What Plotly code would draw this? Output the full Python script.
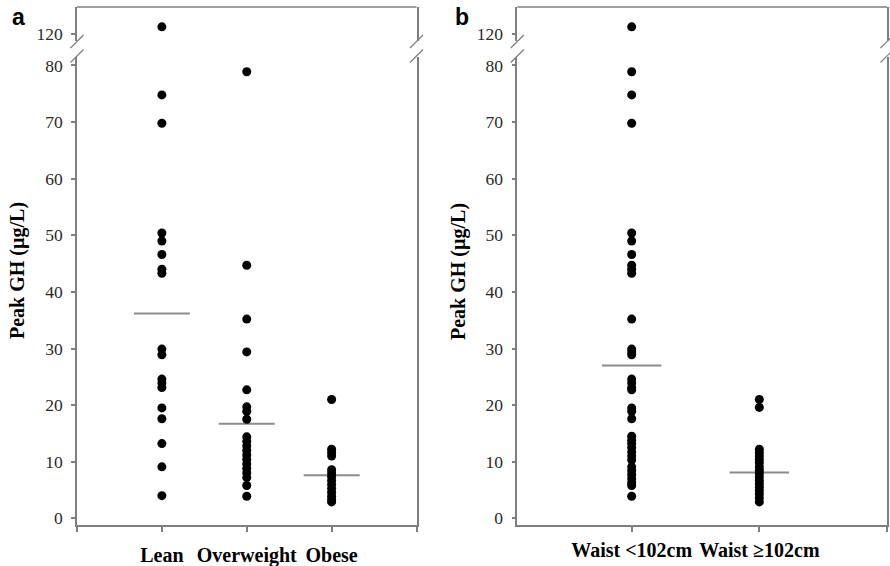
import plotly.graph_objects as go

W, H = 890, 566

# ---------------- data ----------------
groups_a = ["Lean", "Overweight", "Obese"]
lean = [121.3, 74.8, 69.8, 50.4, 49.0, 46.6, 44.0, 43.3, 29.9, 28.9, 24.6, 23.9,
        23.1, 19.5, 17.6, 13.2, 9.1, 4.0]
overweight = [78.9, 44.7, 35.2, 29.4, 22.7, 19.7, 18.9, 17.5, 14.4, 13.6, 12.8,
              12.0, 11.2, 10.4, 9.6, 8.8, 8.0, 7.2, 5.8, 3.9]
obese = [21.0, 12.2, 11.6, 11.0, 8.6, 8.0, 7.4, 6.7, 6.0, 5.3, 4.6, 3.9, 3.3, 2.9]
means_a = [36.2, 16.7, 7.6]

groups_b = ["Waist <102cm", "Waist ≥102cm"]
waist_lt = [121.3, 78.9, 74.8, 69.8, 50.4, 49.0, 46.6, 44.7, 44.0, 43.3, 35.2,
            29.9, 29.4, 28.9, 24.6, 23.9, 23.1, 22.7, 19.5, 18.9, 17.6, 14.5,
            13.8, 13.2, 12.5, 11.7, 11.0, 10.3, 9.1, 8.4, 7.7, 7.0, 6.3, 5.8, 3.9]
waist_ge = [21.0, 19.6, 12.2, 11.6, 11.0, 10.4, 9.8, 9.1, 8.5, 7.9, 7.3, 6.7,
            6.1, 5.5, 4.9, 4.3, 3.6, 2.9]
means_b = [27.0, 8.1]

low_ticks = [0, 10, 20, 30, 40, 50, 60, 70, 80]
high_ticks = [120]
low_range = [-1.18, 81.5]
high_range = [118.8, 124.8]
BREAK = 100

# ---------------- style ----------------
GRAY = "#7f7f7f"
LINE_GRAY = "#8c8c8c"
SERIF = "Liberation Serif"
SANS = "Liberation Sans"


def px_x(p):
    return p / W


def px_y(p):
    return 1 - p / H


fig = go.Figure()


def add_points(xpos, values, xa, ylow, yhigh):
    low = [v for v in values if v < BREAK]
    high = [v for v in values if v >= BREAK]
    fig.add_trace(go.Scatter(x=[xpos] * len(low), y=low, mode="markers",
                             marker=dict(color="black", size=9, line=dict(width=0)),
                             xaxis=xa, yaxis=ylow, showlegend=False, cliponaxis=False,
                             hoverinfo="y"))
    if high:
        fig.add_trace(go.Scatter(x=[xpos] * len(high), y=high, mode="markers",
                                 marker=dict(color="black", size=9, line=dict(width=0)),
                                 xaxis=xa, yaxis=yhigh, showlegend=False, cliponaxis=False,
                                 hoverinfo="y"))


def add_mean(xpos, m, half, xa, ya):
    fig.add_trace(go.Scatter(x=[xpos - half, xpos + half], y=[m, m], mode="lines",
                             line=dict(color=LINE_GRAY, width=2),
                             xaxis=xa, yaxis=ya, showlegend=False, hoverinfo="skip"))


# panel a
for i, vals in enumerate([lean, overweight, obese]):
    add_mean(i + 1, means_a[i], 0.33, "x", "y")
    add_points(i + 1, vals, "x", "y", "y2")

# panel b
for i, vals in enumerate([waist_lt, waist_ge]):
    add_mean(i + 1, means_b[i], 0.233, "x2", "y3")
    add_points(i + 1, vals, "x2", "y3", "y4")

# ---------------- axes ----------------
dom_a = [px_x(77), px_x(416.5)]
dom_b = [px_x(517.3), px_x(887)]
dom_low = [px_y(525), px_y(57)]
dom_high = [px_y(41), px_y(7)]

common = dict(showline=True, linecolor=GRAY, linewidth=1.5, showgrid=False,
              zeroline=False, ticks="outside", tickcolor=GRAY, tickwidth=1.5,
              automargin=False)
ytickfont = dict(family=SERIF, size=17.5, color="#2a2a2a")
xtickfont = dict(family=SERIF, size=20, color="black", weight="bold")

fig.update_layout(
    width=W, height=H, autosize=False,
    margin=dict(l=0, r=0, t=0, b=0, pad=0, autoexpand=False),
    showlegend=False,
    paper_bgcolor="white", plot_bgcolor="white",
    xaxis=dict(domain=dom_a, range=[0, 4], anchor="y",
               tickvals=[0, 1, 2, 3, 4], ticktext=[""] + groups_a + [""],
               ticklen=5, tickfont=xtickfont, ticklabelstandoff=6, **common),
    yaxis=dict(domain=dom_low, range=low_range, anchor="x", tickvals=low_ticks,
               ticklen=4, mirror=True, tickfont=ytickfont, ticklabelstandoff=5, **common),
    yaxis2=dict(domain=dom_high, range=high_range, anchor="x", tickvals=high_ticks,
                ticklen=4, mirror=True, tickfont=ytickfont, ticklabelstandoff=5, **common),
    xaxis2=dict(domain=dom_b, range=[0.104, 3.0], anchor="y3",
                tickvals=[1, 2, 3], ticktext=groups_b + [""],
                ticklen=5, tickfont=xtickfont, ticklabelstandoff=1, **common),
    yaxis3=dict(domain=dom_low, range=low_range, anchor="x2", tickvals=low_ticks,
                ticklen=4, mirror=True, tickfont=ytickfont, ticklabelstandoff=5, **common),
    yaxis4=dict(domain=dom_high, range=high_range, anchor="x2", tickvals=high_ticks,
                ticklen=4, mirror=True, tickfont=ytickfont, ticklabelstandoff=5, **common),
)

# ---------------- frame decorations (top border, axis breaks) ----------------
shapes = []
for (xl, xr) in [(77, 416.5), (517.3, 887)]:
    shapes.append(dict(type="line", xref="paper", yref="paper",
                       x0=px_x(xl), x1=px_x(xr), y0=px_y(7), y1=px_y(7),
                       line=dict(color=GRAY, width=1.5)))
    for xc in (xl, xr):
        for yc in (41.5, 56):
            shapes.append(dict(type="line", xref="paper", yref="paper",
                               x0=px_x(xc - 6.5), y0=px_y(yc + 6.5),
                               x1=px_x(xc + 6.5), y1=px_y(yc - 6.5),
                               line=dict(color=GRAY, width=1.2)))
fig.update_layout(shapes=shapes)

# ---------------- text ----------------
annotations = []
for xc in (17, 458):
    annotations.append(dict(text="Peak GH (µg/L)", xref="paper", yref="paper",
                            x=px_x(xc), y=px_y(271), textangle=-90, showarrow=False,
                            xanchor="center", yanchor="middle",
                            font=dict(family=SERIF, size=20, color="black", weight="bold")))
for lbl, xc in (("a", 18), ("b", 462)):
    annotations.append(dict(text=lbl, xref="paper", yref="paper",
                            x=px_x(xc), y=px_y(17), showarrow=False,
                            xanchor="center", yanchor="middle",
                            font=dict(family=SANS, size=23, color="black", weight="bold")))
fig.update_layout(annotations=annotations)

fig.write_html("out.html")
